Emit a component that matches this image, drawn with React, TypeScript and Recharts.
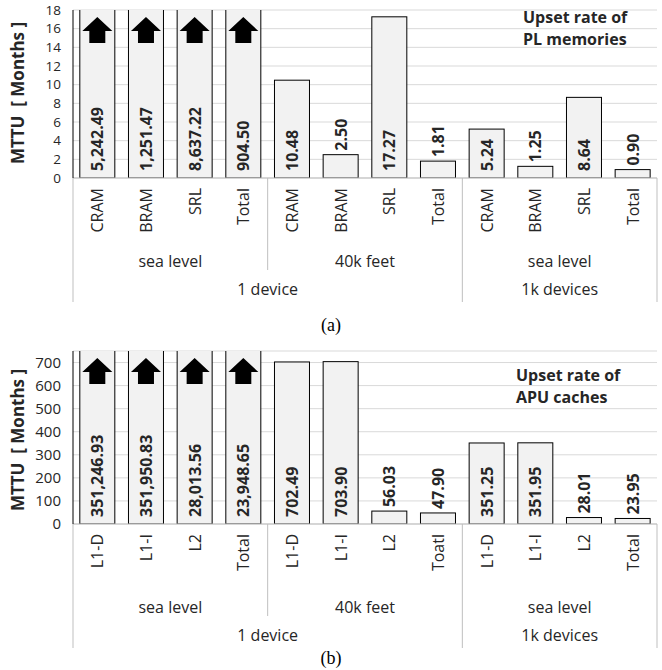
import React from 'react';
import { BarChart, Bar, XAxis, YAxis, CartesianGrid } from 'recharts';

const plCategories = ['CRAM', 'BRAM', 'SRL', 'Total', 'CRAM', 'BRAM', 'SRL', 'Total', 'CRAM', 'BRAM', 'SRL', 'Total'];
const plValues = [5242.49, 1251.47, 8637.22, 904.5, 10.48, 2.5, 17.27, 1.81, 5.24, 1.25, 8.64, 0.9];
const plTicks = [0, 2, 4, 6, 8, 10, 12, 14, 16, 18];

const apuCategories = ['L1-D', 'L1-I', 'L2', 'Total', 'L1-D', 'L1-I', 'L2', 'Toatl', 'L1-D', 'L1-I', 'L2', 'Total'];
const apuValues = [351246.93, 351950.83, 28013.56, 23948.65, 702.49, 703.9, 56.03, 47.9, 351.25, 351.95, 28.01, 23.95];
const apuTicks = [0, 100, 200, 300, 400, 500, 600, 700];

const groupLabels = ['sea level', '40k feet', 'sea level'];
const groupCenters = [2, 6, 10];
const groupBounds = [0, 4, 8, 12];
const deviceLabels = ['1 device', '1k devices'];
const deviceCenters = [4, 10];
const deviceBounds = [0, 8, 12];

const CAT_H = 72;
const GRP_H = 22;
const DEV_H = 30;
const FONT = "'Open Sans', sans-serif";
const TXT = '#262626';
const SEP = '#bfbfbf';

const fmt = (v: number) =>
  v.toLocaleString('en-US', { minimumFractionDigits: 2, maximumFractionDigits: 2 });

const estLen = (s: string) => {
  let l = 0;
  for (const ch of s) l += /[0-9]/.test(ch) ? 9.2 : 4.5;
  return l;
};

const makeShape = (yMax: number, plotTop: number) => (props: any) => {
  const { x, y, width, height, payload, background } = props;
  const v: number = payload.value;
  const top = background && typeof background.y === 'number' ? background.y : plotTop;
  const bottom = y + height;
  const cx = x + width / 2;
  const over = v > yMax;
  const text = fmt(v);
  const len = estLen(text);
  const inside = over || height >= len + 12;
  const ty = inside ? bottom - 7 : y - 4;
  return (
    <g>
      {over ? (
        <g>
          <rect x={x} y={top} width={width} height={bottom - top} fill="#f2f2f2" stroke="none" />
          <line x1={x} x2={x} y1={top} y2={bottom} stroke="#000" strokeWidth={1} />
          <line x1={x + width} x2={x + width} y1={top} y2={bottom} stroke="#000" strokeWidth={1} />
          <line x1={x} x2={x + width} y1={bottom} y2={bottom} stroke="#000" strokeWidth={1} />
          <path
            d={`M ${cx} ${top + 7} L ${cx + 15} ${top + 21} L ${cx + 8} ${top + 21} L ${cx + 8} ${top + 33} L ${cx - 8} ${top + 33} L ${cx - 8} ${top + 21} L ${cx - 15} ${top + 21} Z`}
            fill="#000"
          />
        </g>
      ) : (
        <rect x={x} y={y} width={width} height={height} fill="#f2f2f2" stroke="#000" strokeWidth={1} />
      )}
      <text
        x={cx}
        y={ty}
        transform={`rotate(-90 ${cx} ${ty})`}
        textAnchor="start"
        dominantBaseline="central"
        fontFamily={FONT}
        fontWeight={700}
        fontSize={16}
        fill={TXT}
      >
        {text}
      </text>
    </g>
  );
};

const makeCatTick = (names: string[]) => (props: any) => {
  const { x, y, payload } = props;
  const label = names[Number(payload.value)];
  const ty = y + 10;
  return (
    <text
      x={x}
      y={ty}
      transform={`rotate(-90 ${x} ${ty})`}
      textAnchor="end"
      dominantBaseline="central"
      fontFamily={FONT}
      fontSize={16}
      fill={TXT}
    >
      {label}
    </text>
  );
};

const GroupTick = (props: any) => {
  const { x, y, payload } = props;
  const v = payload.value;
  if (groupBounds.includes(v)) {
    const long = deviceBounds.includes(v);
    return (
      <line
        x1={x}
        x2={x}
        y1={y - CAT_H}
        y2={y + (long ? GRP_H + DEV_H : GRP_H - 2)}
        stroke={SEP}
        strokeWidth={1}
      />
    );
  }
  const gi = groupCenters.indexOf(v);
  return (
    <text x={x} y={y + 11} textAnchor="middle" dominantBaseline="central" fontFamily={FONT} fontSize={16} fill={TXT}>
      {groupLabels[gi]}
    </text>
  );
};

const DeviceTick = (props: any) => {
  const { x, y, payload } = props;
  const di = deviceCenters.indexOf(payload.value);
  return (
    <text x={x} y={y + 17} textAnchor="middle" dominantBaseline="central" fontFamily={FONT} fontSize={16} fill={TXT}>
      {deviceLabels[di]}
    </text>
  );
};

type PanelProps = {
  categories: string[];
  values: number[];
  yMax: number;
  ticks: number[];
  height: number;
  tickFont: number;
};

const Panel = ({ categories, values, yMax, ticks, height, tickFont }: PanelProps) => {
  const data = categories.map((c, i) => ({ key: String(i), name: c, value: values[i], idx: i + 0.5 }));
  const top = 10;
  return (
    <BarChart
      width={662}
      height={height}
      data={data}
      margin={{ top, right: 5, left: 0, bottom: 0 }}
      barCategoryGap="14%"
    >
      <CartesianGrid vertical={false} stroke="#d9d9d9" xAxisId="a_cat" />
      <XAxis
        xAxisId="a_cat"
        dataKey="key"
        height={CAT_H}
        interval={0}
        tickLine={false}
        tickSize={0}
        tickMargin={0}
        axisLine={{ stroke: SEP }}
        tick={makeCatTick(categories)}
      />
      <XAxis
        xAxisId="b_grp"
        dataKey="idx"
        type="number"
        domain={[0, 12]}
        ticks={[0, 2, 4, 6, 8, 10, 12]}
        height={GRP_H}
        interval={0}
        tickLine={false}
        tickSize={0}
        tickMargin={0}
        axisLine={false}
        tick={GroupTick}
      />
      <XAxis
        xAxisId="c_dev"
        dataKey="idx"
        type="number"
        domain={[0, 12]}
        ticks={deviceCenters}
        height={DEV_H}
        interval={0}
        tickLine={false}
        tickSize={0}
        tickMargin={0}
        axisLine={false}
        tick={DeviceTick}
      />
      <YAxis
        width={73}
        domain={[0, yMax]}
        ticks={ticks}
        allowDataOverflow
        interval={0}
        tickLine={false}
        tickSize={0}
        tickMargin={12}
        axisLine={{ stroke: '#000' }}
        tick={{ fontFamily: FONT, fontSize: tickFont, fill: TXT }}
      />
      <Bar
        xAxisId="a_cat"
        dataKey="value"
        isAnimationActive={false}
        shape={makeShape(yMax, top)}
      />
    </BarChart>
  );
};

const titleStyle: React.CSSProperties = {
  position: 'absolute',
  fontFamily: FONT,
  fontWeight: 700,
  fontSize: 16,
  lineHeight: '22px',
  color: TXT,
  whiteSpace: 'nowrap',
};

const yLabelStyle: React.CSSProperties = {
  position: 'absolute',
  fontFamily: FONT,
  fontWeight: 700,
  fontSize: 17,
  color: TXT,
  whiteSpace: 'pre',
  transform: 'translate(-50%, -50%) rotate(-90deg)',
  lineHeight: '20px',
};

const captionStyle: React.CSSProperties = {
  position: 'absolute',
  fontFamily: "'Liberation Serif', 'Times New Roman', serif",
  fontSize: 18,
  color: '#000',
  transform: 'translate(-50%, -50%)',
};

export default function App() {
  return (
    <div style={{ position: 'absolute', left: 0, top: 0, width: 662, height: 670, background: '#fff', overflow: 'hidden' }}>
      <div style={{ position: 'absolute', left: 0, top: 0 }}>
        <Panel categories={plCategories} values={plValues} yMax={18} ticks={plTicks} height={302} tickFont={13.5} />
      </div>
      <div style={{ position: 'absolute', left: 0, top: 341 }}>
        <Panel categories={apuCategories} values={apuValues} yMax={750} ticks={apuTicks} height={307} tickFont={15} />
      </div>
      <div style={{ ...titleStyle, left: 523, top: 6 }}>
        Upset rate of
        <br />
        PL memories
      </div>
      <div style={{ ...titleStyle, left: 516, top: 364 }}>
        Upset rate of
        <br />
        APU caches
      </div>
      <div style={{ ...yLabelStyle, left: 18, top: 93 }}>{'MTTU  [ Months ]'}</div>
      <div style={{ ...yLabelStyle, left: 18, top: 440 }}>{'MTTU  [ Months ]'}</div>
      <div style={{ ...captionStyle, left: 331, top: 325 }}>(a)</div>
      <div style={{ ...captionStyle, left: 331, top: 658 }}>(b)</div>
    </div>
  );
}
